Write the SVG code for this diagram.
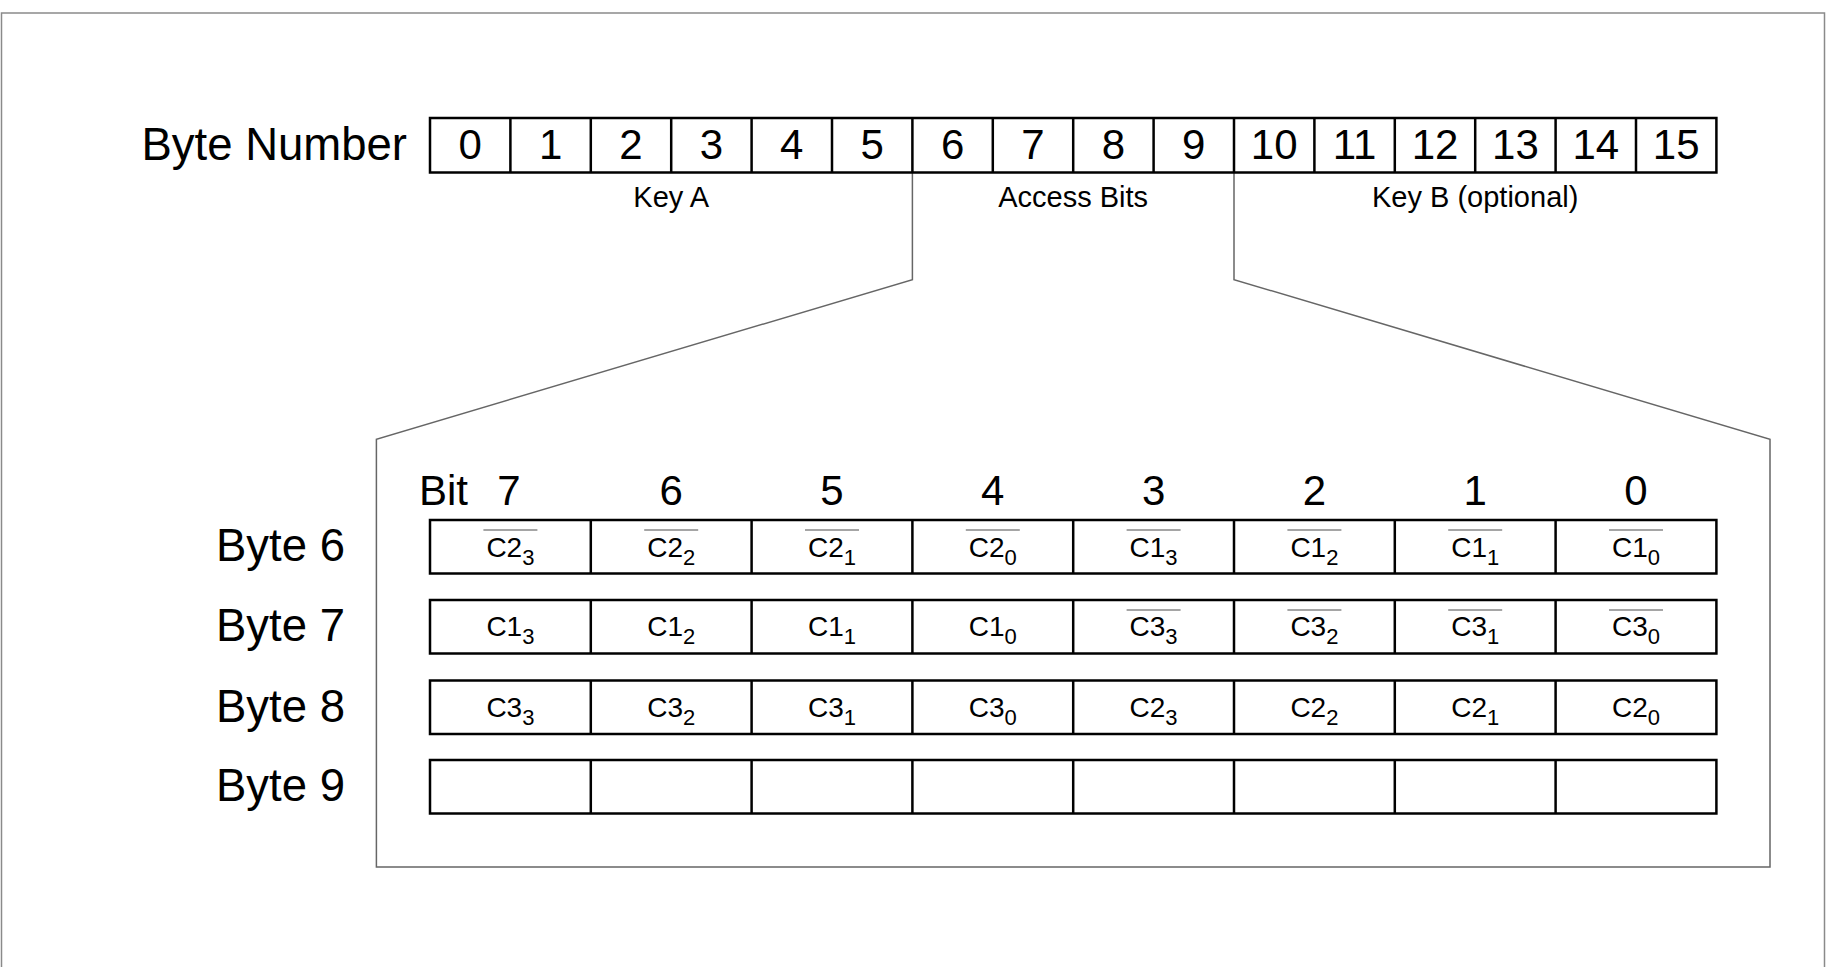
<svg xmlns="http://www.w3.org/2000/svg" width="1827" height="967" viewBox="0 0 1827 967">
<style>
.frame{fill:none;stroke:#8a8a8a;stroke-width:1.5}
.conn{fill:none;stroke:#666;stroke-width:1.5}
.cell{fill:#fff;stroke:#000;stroke-width:2.5}
.big{font-family:"Liberation Sans",Arial,sans-serif;font-size:42px;fill:#000}
.lbl{font-family:"Liberation Sans",Arial,sans-serif;font-size:45.5px;fill:#000;text-anchor:end}
.lab{font-family:"Liberation Sans",Arial,sans-serif;font-size:29px;fill:#000;text-anchor:middle}
.ct{font-family:"Liberation Sans",Arial,sans-serif;font-size:28px;fill:#000;text-anchor:middle}
.sub{font-size:22px}
.ov{stroke:#888;stroke-width:1.6}
.mid{text-anchor:middle}
</style>
<rect class="frame" x="1.5" y="13" width="1823" height="980"/>
<g id="connectors">
<polyline class="conn" points="912.4,172.5 912.4,279.6 376.4,439.3 376.4,867 1770,867 1770,439.3 1234,279.6 1234,172.5"/>
</g>
<g id="byte-number">
<text class="lbl" x="407" y="159.5">Byte Number</text>
<rect class="cell" x="430" y="118" width="1286.4" height="54.5"/>
<path class="cell" d="M510.4,118V172.5M590.8,118V172.5M671.2,118V172.5M751.6,118V172.5M832,118V172.5M912.4,118V172.5M992.8,118V172.5M1073.2,118V172.5M1153.6,118V172.5M1234,118V172.5M1314.4,118V172.5M1394.8,118V172.5M1475.2,118V172.5M1555.6,118V172.5M1636,118V172.5"/>
<g class="big mid">
<text x="470.2" y="159">0</text><text x="550.6" y="159">1</text><text x="631" y="159">2</text><text x="711.4" y="159">3</text>
<text x="791.8" y="159">4</text><text x="872.2" y="159">5</text><text x="952.6" y="159">6</text><text x="1033" y="159">7</text>
<text x="1113.4" y="159">8</text><text x="1193.8" y="159">9</text><text x="1274.2" y="159">10</text><text x="1354.6" y="159">11</text>
<text x="1435" y="159">12</text><text x="1515.4" y="159">13</text><text x="1595.8" y="159">14</text><text x="1676.2" y="159">15</text>
</g>
</g>
<g id="key-a"><text class="lab" x="671.2" y="207">Key A</text></g>
<g id="access-bits"><text class="lab" x="1073.2" y="207">Access Bits</text></g>
<g id="key-b"><text class="lab" x="1475.2" y="207">Key B (optional)</text></g>
<g id="bit-header" class="big">
<text x="419" y="505">Bit</text>
<g class="mid">
<text x="509" y="505">7</text><text x="671.2" y="505">6</text><text x="832" y="505">5</text><text x="992.8" y="505">4</text>
<text x="1153.6" y="505">3</text><text x="1314.4" y="505">2</text><text x="1475.2" y="505">1</text><text x="1636" y="505">0</text>
</g>
</g>
<g id="byte6">
<text class="lbl" x="345" y="561">Byte 6</text>
<rect class="cell" x="430" y="520" width="1286.4" height="53.5"/>
<path class="cell" d="M590.8,520v53.5M751.6,520v53.5M912.4,520v53.5M1073.2,520v53.5M1234,520v53.5M1394.8,520v53.5M1555.6,520v53.5"/>
<g class="ct">
<text x="510.4" y="557">C2<tspan class="sub" dy="8">3</tspan></text>
<text x="671.2" y="557">C2<tspan class="sub" dy="8">2</tspan></text>
<text x="832" y="557">C2<tspan class="sub" dy="8">1</tspan></text>
<text x="992.8" y="557">C2<tspan class="sub" dy="8">0</tspan></text>
<text x="1153.6" y="557">C1<tspan class="sub" dy="8">3</tspan></text>
<text x="1314.4" y="557">C1<tspan class="sub" dy="8">2</tspan></text>
<text x="1475.2" y="557">C1<tspan class="sub" dy="8">1</tspan></text>
<text x="1636" y="557">C1<tspan class="sub" dy="8">0</tspan></text>
</g>
<path class="ov" d="M483.4,530h54M644.2,530h54M805,530h54M965.8,530h54M1126.6,530h54M1287.4,530h54M1448.2,530h54M1609,530h54"/>
</g>
<g id="byte7">
<text class="lbl" x="345" y="641">Byte 7</text>
<rect class="cell" x="430" y="600" width="1286.4" height="53.5"/>
<path class="cell" d="M590.8,600v53.5M751.6,600v53.5M912.4,600v53.5M1073.2,600v53.5M1234,600v53.5M1394.8,600v53.5M1555.6,600v53.5"/>
<g class="ct">
<text x="510.4" y="636">C1<tspan class="sub" dy="8">3</tspan></text>
<text x="671.2" y="636">C1<tspan class="sub" dy="8">2</tspan></text>
<text x="832" y="636">C1<tspan class="sub" dy="8">1</tspan></text>
<text x="992.8" y="636">C1<tspan class="sub" dy="8">0</tspan></text>
<text x="1153.6" y="636">C3<tspan class="sub" dy="8">3</tspan></text>
<text x="1314.4" y="636">C3<tspan class="sub" dy="8">2</tspan></text>
<text x="1475.2" y="636">C3<tspan class="sub" dy="8">1</tspan></text>
<text x="1636" y="636">C3<tspan class="sub" dy="8">0</tspan></text>
</g>
<path class="ov" d="M1126.6,610h54M1287.4,610h54M1448.2,610h54M1609,610h54"/>
</g>
<g id="byte8">
<text class="lbl" x="345" y="721.5">Byte 8</text>
<rect class="cell" x="430" y="680.5" width="1286.4" height="53.5"/>
<path class="cell" d="M590.8,680.5v53.5M751.6,680.5v53.5M912.4,680.5v53.5M1073.2,680.5v53.5M1234,680.5v53.5M1394.8,680.5v53.5M1555.6,680.5v53.5"/>
<g class="ct">
<text x="510.4" y="716.5">C3<tspan class="sub" dy="8">3</tspan></text>
<text x="671.2" y="716.5">C3<tspan class="sub" dy="8">2</tspan></text>
<text x="832" y="716.5">C3<tspan class="sub" dy="8">1</tspan></text>
<text x="992.8" y="716.5">C3<tspan class="sub" dy="8">0</tspan></text>
<text x="1153.6" y="716.5">C2<tspan class="sub" dy="8">3</tspan></text>
<text x="1314.4" y="716.5">C2<tspan class="sub" dy="8">2</tspan></text>
<text x="1475.2" y="716.5">C2<tspan class="sub" dy="8">1</tspan></text>
<text x="1636" y="716.5">C2<tspan class="sub" dy="8">0</tspan></text>
</g>
</g>
<g id="byte9">
<text class="lbl" x="345" y="801">Byte 9</text>
<rect class="cell" x="430" y="760" width="1286.4" height="53.5"/>
<path class="cell" d="M590.8,760v53.5M751.6,760v53.5M912.4,760v53.5M1073.2,760v53.5M1234,760v53.5M1394.8,760v53.5M1555.6,760v53.5"/>
</g>
</svg>
